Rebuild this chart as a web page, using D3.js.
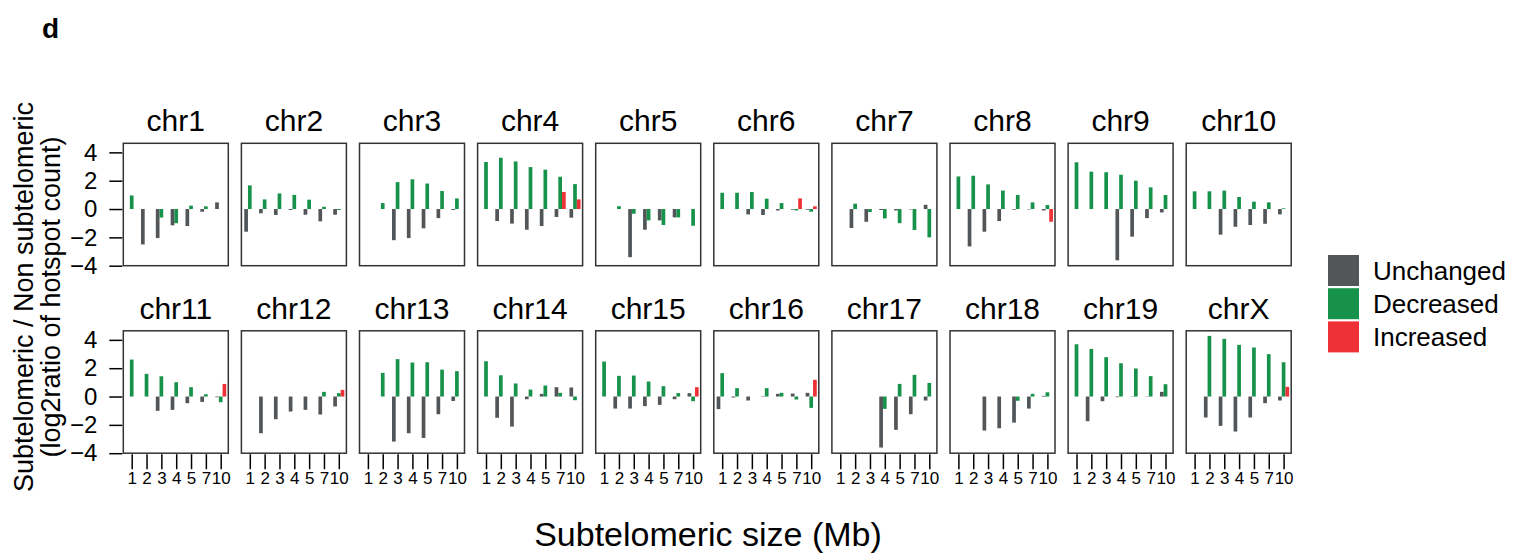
<!DOCTYPE html>
<html>
<head>
<meta charset="utf-8">
<script src="https://cdn.jsdelivr.net/npm/d3@7"></script>
<style>
  body { margin: 0; background: #fff; }
  text { font-family: "Liberation Sans", Arial, sans-serif; fill: #000; }
</style>
</head>
<body>
<div id="chart"></div>
<script>
// chromosomes, one panel each
var chroms = ["chr1","chr2","chr3","chr4","chr5","chr6","chr7","chr8","chr9","chr10",
              "chr11","chr12","chr13","chr14","chr15","chr16","chr17","chr18","chr19","chrX"];

// subtelomeric size (Mb)
var sizes = ["1","2","3","4","5","7","10"];

// log2 ratio of hotspot count, one row per chromosome
var unchanged = [
  [0, -2.5, -2.05, -1.15, -1.2, -0.19, 0.47],
  [-1.6, -0.3, -0.42, -0.07, -0.4, -0.87, -0.4],
  [0, 0, -2.2, -2.05, -1.36, -0.64, -0.07],
  [0, -0.85, -1.03, -1.46, -1.2, -0.56, -0.61],
  [0, 0, -3.4, -1.46, -0.8, -0.59, 0],
  [0, 0, -0.38, -0.42, -0.1, -0.05, -0.05],
  [0, -1.34, -0.9, -0.07, -0.1, -0.03, 0.3],
  [0, -2.64, -1.6, -0.85, -0.05, -0.03, -0.1],
  [0, 0, 0, -3.62, -1.95, -0.64, -0.24],
  [0, 0, -1.81, -1.25, -1.13, -1.04, -0.38],
  [0, 0, -1.01, -0.94, -0.47, -0.38, -0.05],
  [0, -2.59, -1.6, -1.06, -0.94, -1.27, -0.7],
  [0, 0, -3.18, -2.59, -2.92, -1.25, -0.31],
  [0, -1.5, -2.12, -0.19, 0.19, 0.66, 0.64],
  [0, -0.85, -0.85, -0.68, -0.59, -0.19, 0.24],
  [-0.89, -0.07, -0.28, -0.03, 0.19, 0.21, 0.26],
  [0, 0, 0, -3.6, -2.35, -1.25, -0.28],
  [0, 0, -2.4, -2.24, -1.84, -0.85, 0.05],
  [0, -1.74, -0.33, -0.05, -0.02, -0.02, 0.33],
  [0, -1.48, -2.07, -2.47, -1.48, -0.47, -0.28]
];

var decreased = [
  [0.96, 0, -0.6, -1.0, 0.24, 0.19, 0],
  [1.67, 0.68, 1.1, 1.0, 0.66, 0.16, -0.07],
  [0, 0.42, 1.9, 2.1, 1.8, 1.27, 0.75],
  [3.32, 3.62, 3.36, 2.96, 2.78, 2.28, 1.76],
  [0, 0.2, -0.33, -0.8, -1.13, -0.59, -1.18],
  [1.15, 1.15, 1.2, 0.73, 0.42, -0.1, -0.19],
  [0, 0.38, -0.21, -0.66, -1.0, -1.48, -2.0],
  [2.3, 2.35, 1.74, 1.3, 0.99, 0.47, 0.28],
  [3.3, 2.64, 2.6, 2.42, 2.0, 1.53, 0.99],
  [1.25, 1.25, 1.3, 0.85, 0.52, 0.47, 0.05],
  [2.61, 1.6, 1.43, 1.01, 0.66, 0.16, -0.4],
  [0, 0, 0, 0, 0, 0.33, 0.24],
  [0, 1.67, 2.64, 2.4, 2.42, 1.9, 1.79],
  [2.49, 1.5, 0.92, 0.49, 0.78, 0.26, -0.26],
  [2.47, 1.46, 1.48, 1.06, 0.73, 0.24, -0.33],
  [1.65, 0.59, 0, 0.59, 0.26, -0.21, -0.8],
  [0, 0, 0, -0.87, 0.89, 1.53, 0.96],
  [0, 0, 0, 0, -0.3, 0.19, 0.3],
  [3.69, 3.36, 2.78, 2.35, 1.98, 1.44, 0.87],
  [0, 4.28, 4.07, 3.65, 3.46, 2.99, 2.42]
];

var increased = [
  [0, 0, 0, 0, 0, 0, 0],
  [0, 0, 0, 0, 0, 0, 0],
  [0, 0, 0, 0, 0, 0, 0],
  [0, 0, 0, 0, 0, 1.2, 0.68],
  [0, 0, 0, 0, 0, 0, 0],
  [0, 0, 0, 0, 0, 0.75, 0.19],
  [0, 0, 0, 0, 0, 0, 0],
  [0, 0, 0, 0, 0, 0, -0.9],
  [0, 0, 0, 0, 0, 0, 0],
  [0, 0, 0, 0, 0, 0, 0],
  [0, 0, 0, 0, 0, 0, 0.89],
  [0, 0, 0, 0, 0, 0, 0.47],
  [0, 0, 0, 0, 0, 0, 0],
  [0, 0, 0, 0, 0, 0, 0],
  [0, 0, 0, 0, 0, 0, 0.66],
  [0, 0, 0, 0, 0, 0, 1.18],
  [0, 0, 0, 0, 0, 0, 0],
  [0, 0, 0, 0, 0, 0, 0],
  [0, 0, 0, 0, 0, 0, 0],
  [0, 0, 0, 0, 0, 0, 0.68]
];

var yTicks = [-4, -2, 0, 2, 4];

var seriesNames = ["Unchanged", "Decreased", "Increased"];
var seriesColors = ["#525659", "#17924a", "#ee3135"];
var seriesData = [unchanged, decreased, increased];

var width = 1513, height = 557;
var panelW = 105, panelH = 122.4;
var left0 = 123.3, colStep = 118.1;
var rowTops = [143.3, 330.8];
var barW = 3.7;

var svg = d3.select("#chart").append("svg")
    .attr("width", width)
    .attr("height", height);

var x = d3.scalePoint().domain(sizes).range([8.4, 97.4]);
var y = d3.scaleLinear().domain([-4, 4.64]).range([panelH, 0]);

chroms.forEach(function (chr, ci) {
    var col = ci % 10, row = Math.floor(ci / 10);
    var g = svg.append("g")
        .attr("transform", "translate(" + (left0 + col * colStep) + "," + rowTops[row] + ")");

    // bars: unchanged left, decreased centred on tick, increased right
    seriesData.forEach(function (s, si) {
        var vals = s[ci];
        g.selectAll(".bar" + si)
            .data(vals.map(function (v, i) { return {size: sizes[i], v: v}; })
                      .filter(function (d) { return d.v !== 0; }))
            .enter().append("rect")
            .attr("x", function (d) { return x(d.size) + (si - 1.5) * barW; })
            .attr("width", barW)
            .attr("y", function (d) { return y(Math.max(0, d.v)); })
            .attr("height", function (d) { return Math.abs(y(d.v) - y(0)); })
            .attr("fill", seriesColors[si]);
    });

    g.append("rect")
        .attr("width", panelW)
        .attr("height", panelH)
        .attr("fill", "none")
        .attr("stroke", "#333")
        .attr("stroke-width", 1.5);

    g.append("text")
        .attr("x", panelW / 2)
        .attr("y", -12)
        .attr("text-anchor", "middle")
        .style("font-size", "30px")
        .text(chr);

    if (col === 0) {
        var ya = g.append("g").attr("transform", "translate(-1,0)")
            .call(d3.axisLeft(y).tickValues(yTicks).tickSize(13).tickPadding(12).tickFormat(d3.format("d")));
        ya.select(".domain").remove();
        ya.selectAll("line").attr("stroke", "#000").attr("stroke-width", 1.5);
        ya.selectAll("text").style("font-size", "24px").attr("font-family", null);
    }

    if (row === 1) {
        var xa = g.append("g").attr("transform", "translate(0," + (panelH + 1) + ")")
            .call(d3.axisBottom(x).tickSize(15).tickPadding(3));
        xa.select(".domain").remove();
        xa.selectAll("line").attr("stroke", "#000").attr("stroke-width", 1.5);
        xa.selectAll("text").style("font-size", "17px").attr("font-family", null);
    }
});

// panel letter
svg.append("text")
    .attr("x", 42).attr("y", 38)
    .style("font-size", "28px")
    .style("font-weight", "bold")
    .text("d");

// y axis title
var yt = svg.append("text")
    .attr("transform", "translate(0,297) rotate(-90)")
    .attr("text-anchor", "middle")
    .style("font-size", "27px");
yt.append("tspan").attr("x", 0).attr("y", 33).text("Subtelomeric / Non subtelomeric");
yt.append("tspan").attr("x", 0).attr("y", 60).text("(log2ratio of hotspot count)");

// x axis title
svg.append("text")
    .attr("x", 708).attr("y", 546)
    .attr("text-anchor", "middle")
    .style("font-size", "34px")
    .text("Subtelomeric size (Mb)");

// legend
var legend = svg.append("g").attr("transform", "translate(1328,255)");
seriesNames.forEach(function (name, i) {
    legend.append("rect")
        .attr("x", 0).attr("y", i * 33.2)
        .attr("width", 31).attr("height", 31)
        .attr("fill", seriesColors[i]);
    legend.append("text")
        .attr("x", 45).attr("y", i * 33.2 + 25)
        .style("font-size", "26px")
        .text(name);
});
</script>
</body>
</html>
